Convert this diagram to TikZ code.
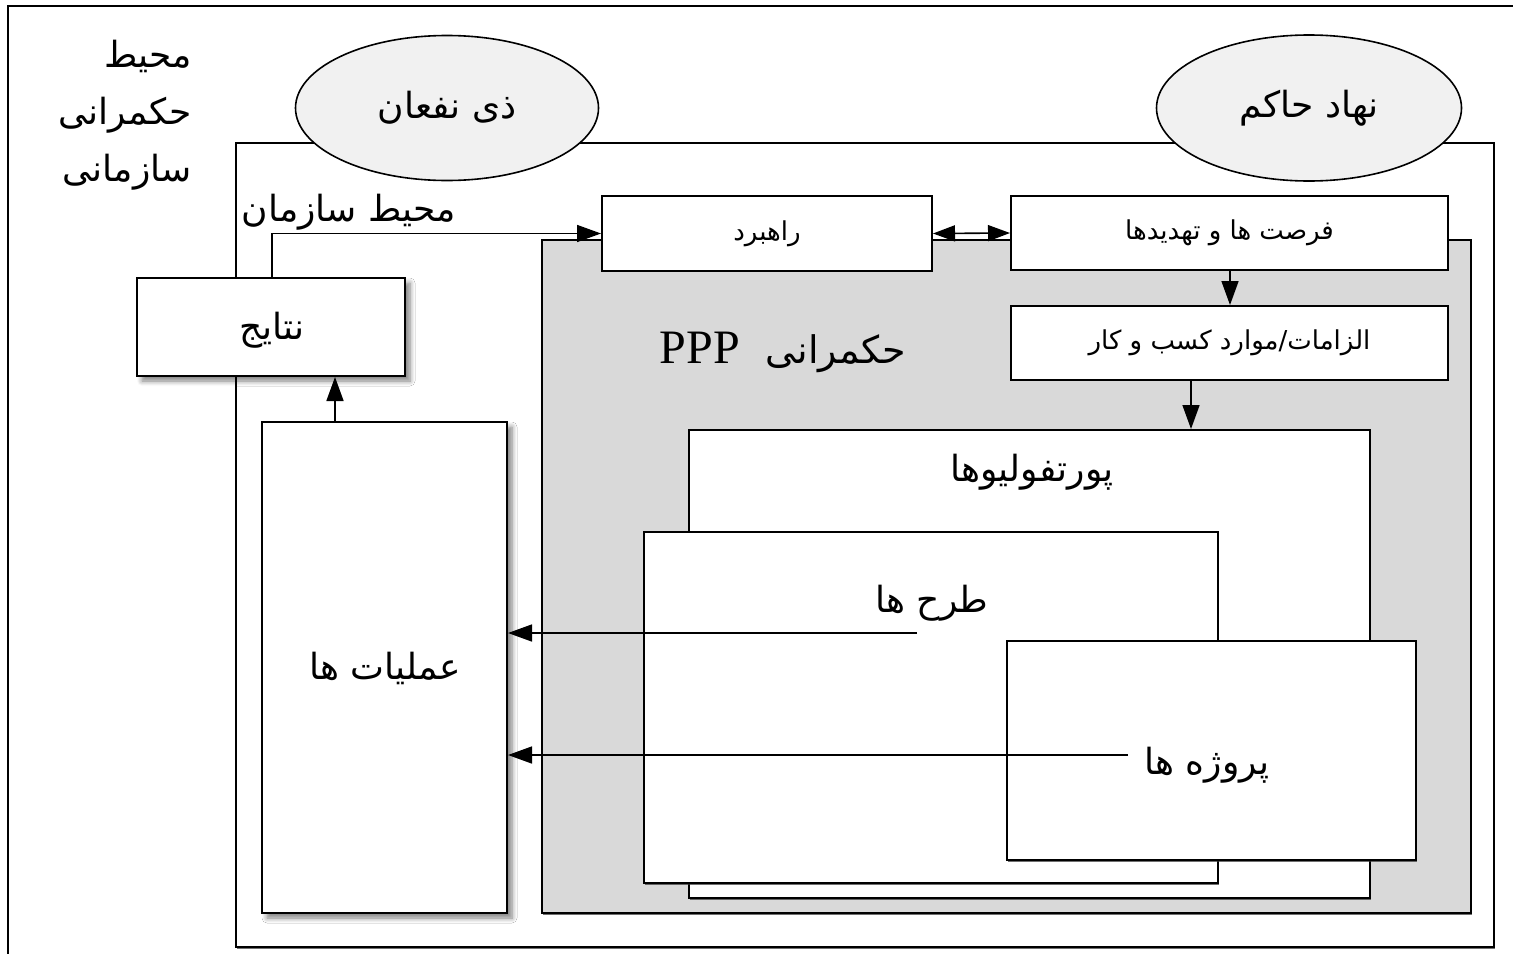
\documentclass[tikz,border=0pt]{standalone}
\usepackage{fontspec}
\setmainfont{Liberation Serif}
\newfontfamily\arabicfont[Script=Arabic]{DejaVu Sans}
\TeXXeTstate=1
\usetikzlibrary{arrows.meta,shapes.geometric,shadows,shadows.blur,fit}
\newcommand{\fatext}[1]{{\arabicfont\beginR #1\endR}}
\definecolor{panelgray}{RGB}{217,217,217}
\definecolor{ellgray}{RGB}{241,241,241}
\tikzset{
  box/.style={draw=black, line width=1pt, fill=white, rectangle, inner sep=0pt},
  thinshadow/.style={drop shadow={shadow xshift=0.5pt, shadow yshift=-0.8pt, opacity=0.7, fill=black!80}},
  softshadow/.style={blur shadow={shadow xshift=2.5pt, shadow yshift=-2.5pt, shadow blur steps=6, shadow blur radius=2.5pt, shadow opacity=50}},
  ell/.style={draw=black, line width=0.8pt, fill=ellgray, ellipse, inner sep=0pt},
  arr/.style={line width=0.8pt, -{Triangle[length=12pt, width=8.5pt]}},
  dblarr/.style={line width=0.8pt, {Triangle[length=11pt, width=8pt]}-{Triangle[length=11pt, width=8pt]}},
  biglbl/.style={font=\fontsize{18}{21}\selectfont, inner sep=0pt},
  smalllbl/.style={font=\fontsize{13}{15}\selectfont},
}
\begin{document}
\begin{tikzpicture}[x=0.5pt, y=-0.5pt]
\useasboundingbox (0,0) rectangle (1513,953);
% outer frame
\draw[line width=0.8pt] (8,965) -- (8,6) -- (1525,6);
% organisation environment
\node[box, thinshadow, fit={(236,143) (1494,947)}] (org) {};
% ellipses
\node[ell, minimum width=151.5pt, minimum height=72.5pt] (stake) at (447,108) {\fontsize{18}{21}\selectfont\fatext{ذی نفعان}};
\node[ell, minimum width=152.5pt, minimum height=73pt] (gov) at (1309,108) {\fontsize{18}{21}\selectfont\fatext{نهاد حاکم}};
% governance panel
\node[box, fill=panelgray, thinshadow, fit={(542,240) (1471,913)}] (panel) {};
% top boxes
\node[box, fit={(602,196) (932,271)}] (strat) {};
\node[smalllbl] at (strat.center) {\fatext{راهبرد}};
\node[box, fit={(1011,196) (1448,270)}] (opp) {};
\node[smalllbl] at (opp.center) {\fatext{فرصت ها و تهدیدها}};
\node[box, fit={(1011,306) (1448,380)}] (req) {};
\node[smalllbl] at (req.center) {\fatext{الزامات/موارد کسب و کار}};
% nested boxes
\node[box, thinshadow, fit={(689,430) (1370,898)}] (port) {};
\node[box, thinshadow, fit={(644,532) (1218,883)}] (plan) {};
\node[box, thinshadow, fit={(1007,641) (1416,860)}] (proj) {};
% left boxes
\node[box, softshadow, fit={(137,278) (405,376)}] (res) {};
\node[box, softshadow, fit={(262,422) (507,913)}] (ops) {};
% labels
\node[inner sep=0pt, anchor=east, align=right, font=\fontsize{18}{28.5}\selectfont\arabicfont] (lblgov) at (192,115) {\beginR محیط\endR\\\beginR حکمرانی\endR\\\beginR سازمانی\endR};
\node[biglbl] (lblorg) at (349,212) {\fatext{محیط سازمان}};
\node[biglbl] (lblres) at (272,330) {\fatext{نتایج}};
\node[biglbl] (lblops) at (385,668) {\fatext{عملیات ها}};
\node[biglbl] (lblport) at (1032,472) {\fatext{پورتفولیوها}};
\node[biglbl] (lblplan) at (932,603) {\fatext{طرح ها}};
\node[biglbl] (lblproj) at (1207,765) {\fatext{پروژه ها}};
\node[inner sep=0pt] (lblppp) at (783,352) {\arabicfont\beginR{\fontsize{19}{23}\selectfont حکمرانی}\hspace{13pt}{\rmfamily\fontsize{24}{28}\selectfont\beginL PPP\endL}\endR};
% connectors
\coordinate (cA) at (272,233);
\coordinate (cB) at (1230,0);
\coordinate (cC) at (1191,0);
\coordinate (cD) at (335,0);
\coordinate (cE) at (917,633);
\coordinate (cF) at (1128,755);
\draw[arr] (res.north -| cA) |- (strat.west);
\draw[dblarr] (strat.east) -- (opp.west);
\draw[arr] (opp.south -| cB) -- (req.north -| cB);
\draw[arr] (req.south -| cC) -- (port.north -| cC);
\draw[arr] (ops.north -| cD) -- (res.south -| cD);
\draw[arr] (cE) -- (ops.east |- cE);
\draw[arr] (cF) -- (ops.east |- cF);
\end{tikzpicture}
\end{document}
